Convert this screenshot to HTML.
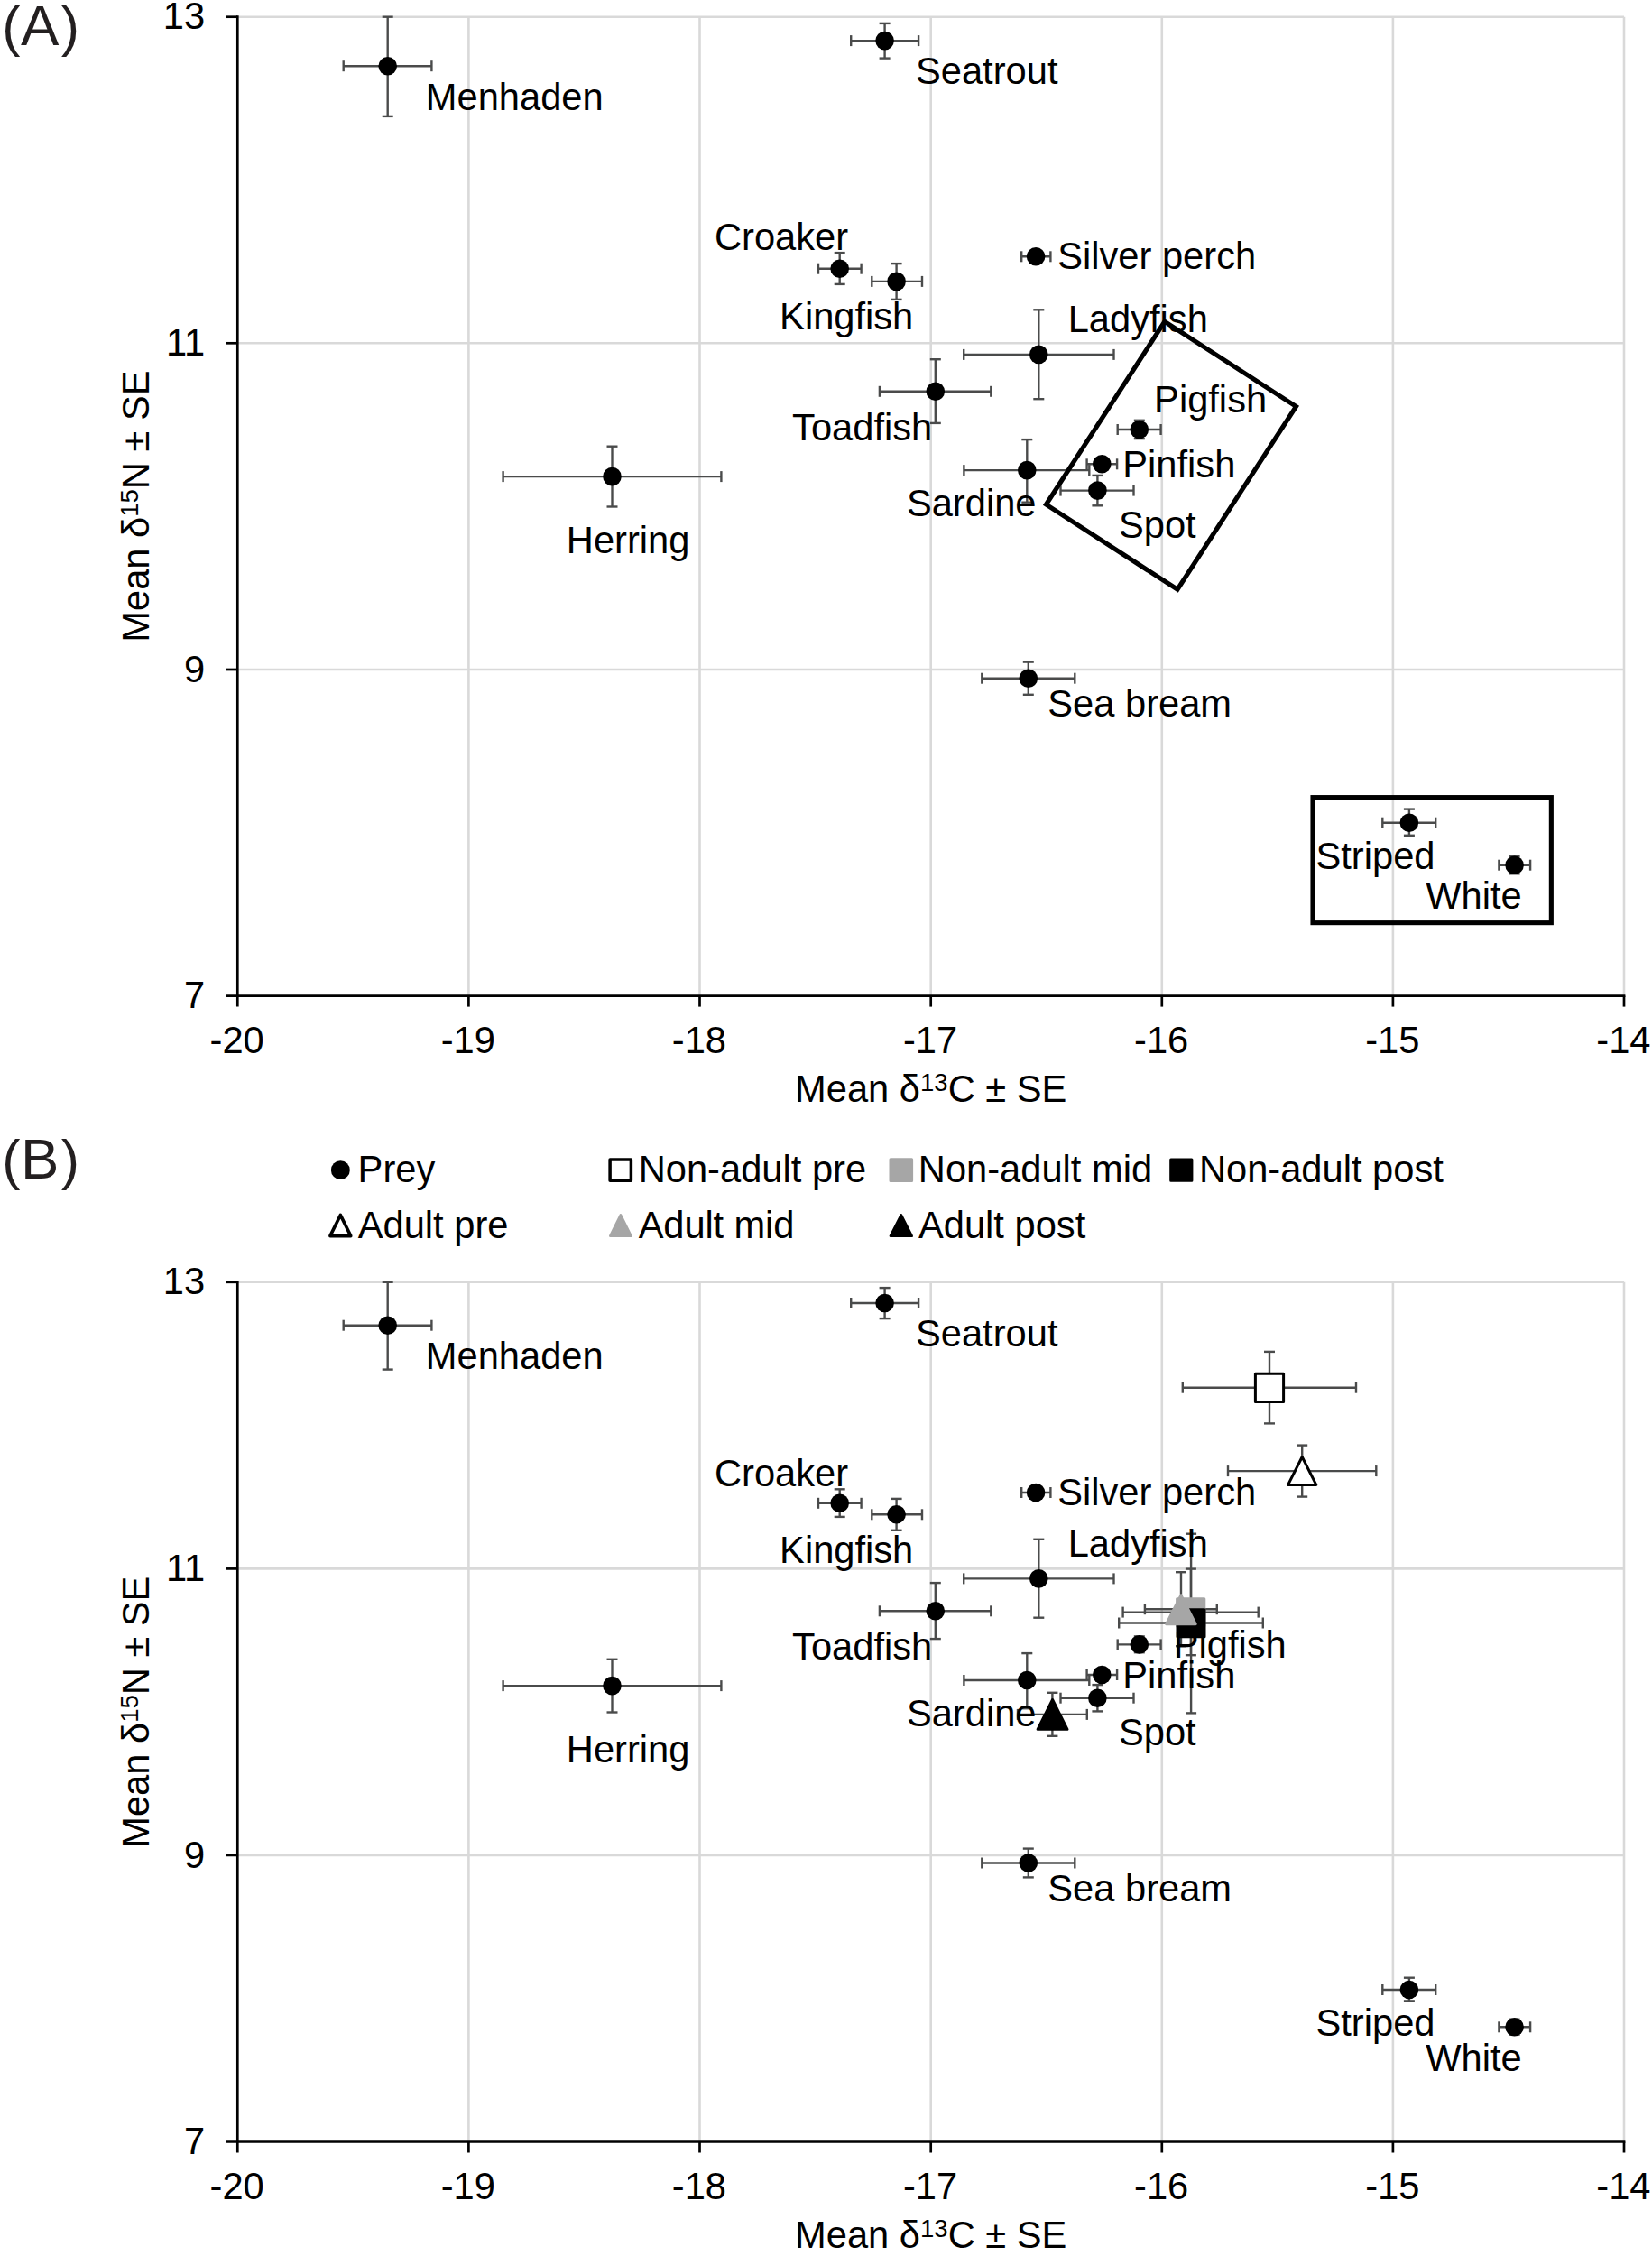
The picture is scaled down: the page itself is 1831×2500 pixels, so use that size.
<!DOCTYPE html>
<html lang="en"><head><meta charset="utf-8"><title>Stable isotope biplots</title>
<style>html,body{margin:0;padding:0;background:#fff}svg{display:block}</style></head>
<body>
<svg width="1831" height="2500" viewBox="0 0 1831 2500" style="font-family:&quot;Liberation Sans&quot;,sans-serif" font-size="41.67" fill="#000">
<rect width="1831" height="2500" fill="#fff"/>
<line x1="519.4" y1="18.7" x2="519.4" y2="1103.6" stroke="#d9d9d9" stroke-width="2.6"/>
<line x1="775.5" y1="18.7" x2="775.5" y2="1103.6" stroke="#d9d9d9" stroke-width="2.6"/>
<line x1="1031.7" y1="18.7" x2="1031.7" y2="1103.6" stroke="#d9d9d9" stroke-width="2.6"/>
<line x1="1287.8" y1="18.7" x2="1287.8" y2="1103.6" stroke="#d9d9d9" stroke-width="2.6"/>
<line x1="1543.9" y1="18.7" x2="1543.9" y2="1103.6" stroke="#d9d9d9" stroke-width="2.6"/>
<line x1="1800.0" y1="18.7" x2="1800.0" y2="1103.6" stroke="#d9d9d9" stroke-width="2.6"/>
<line x1="263.3" y1="18.7" x2="1800.0" y2="18.7" stroke="#d9d9d9" stroke-width="2.6"/>
<line x1="263.3" y1="380.3" x2="1800.0" y2="380.3" stroke="#d9d9d9" stroke-width="2.6"/>
<line x1="263.3" y1="742.0" x2="1800.0" y2="742.0" stroke="#d9d9d9" stroke-width="2.6"/>
<line x1="263.3" y1="17.3" x2="263.3" y2="1115.6" stroke="#000" stroke-width="2.7"/>
<line x1="250.8" y1="1103.6" x2="1801.4" y2="1103.6" stroke="#000" stroke-width="2.7"/>
<line x1="519.4" y1="1103.6" x2="519.4" y2="1115.6" stroke="#000" stroke-width="2.7"/>
<line x1="775.5" y1="1103.6" x2="775.5" y2="1115.6" stroke="#000" stroke-width="2.7"/>
<line x1="1031.7" y1="1103.6" x2="1031.7" y2="1115.6" stroke="#000" stroke-width="2.7"/>
<line x1="1287.8" y1="1103.6" x2="1287.8" y2="1115.6" stroke="#000" stroke-width="2.7"/>
<line x1="1543.9" y1="1103.6" x2="1543.9" y2="1115.6" stroke="#000" stroke-width="2.7"/>
<line x1="1800.0" y1="1103.6" x2="1800.0" y2="1115.6" stroke="#000" stroke-width="2.7"/>
<line x1="250.8" y1="18.7" x2="263.3" y2="18.7" stroke="#000" stroke-width="2.7"/>
<line x1="250.8" y1="380.3" x2="263.3" y2="380.3" stroke="#000" stroke-width="2.7"/>
<line x1="250.8" y1="742.0" x2="263.3" y2="742.0" stroke="#000" stroke-width="2.7"/>
<text x="227.2" y="32.3" text-anchor="end">13</text>
<text x="227.2" y="393.9" text-anchor="end">11</text>
<text x="227.2" y="755.6" text-anchor="end">9</text>
<text x="227.2" y="1117.2" text-anchor="end">7</text>
<text x="262.7" y="1166.6" text-anchor="middle">-20</text>
<text x="518.8" y="1166.6" text-anchor="middle">-19</text>
<text x="774.9" y="1166.6" text-anchor="middle">-18</text>
<text x="1031.1" y="1166.6" text-anchor="middle">-17</text>
<text x="1287.2" y="1166.6" text-anchor="middle">-16</text>
<text x="1543.3" y="1166.6" text-anchor="middle">-15</text>
<text x="1799.4" y="1166.6" text-anchor="middle">-14</text>
<text x="1031.7" y="1220.8" text-anchor="middle">Mean δ<tspan font-size="27.5" dy="-12">13</tspan><tspan dy="12">C ± SE</tspan></text>
<text transform="translate(165.1,561.1) rotate(-90)" text-anchor="middle">Mean δ<tspan font-size="27.5" dy="-12">15</tspan><tspan dy="12">N ± SE</tspan></text>
<line x1="380.7" y1="73.2" x2="478.4" y2="73.2" stroke="#4a4b4b" stroke-width="2.4"/>
<line x1="380.7" y1="67.2" x2="380.7" y2="79.2" stroke="#4a4b4b" stroke-width="2.4"/>
<line x1="478.4" y1="67.2" x2="478.4" y2="79.2" stroke="#4a4b4b" stroke-width="2.4"/>
<line x1="429.7" y1="18.7" x2="429.7" y2="128.9" stroke="#4a4b4b" stroke-width="2.4"/>
<line x1="423.7" y1="18.7" x2="435.7" y2="18.7" stroke="#4a4b4b" stroke-width="2.4"/>
<line x1="423.7" y1="128.9" x2="435.7" y2="128.9" stroke="#4a4b4b" stroke-width="2.4"/>
<line x1="943.2" y1="45.1" x2="1018.1" y2="45.1" stroke="#4a4b4b" stroke-width="2.4"/>
<line x1="943.2" y1="39.1" x2="943.2" y2="51.1" stroke="#4a4b4b" stroke-width="2.4"/>
<line x1="1018.1" y1="39.1" x2="1018.1" y2="51.1" stroke="#4a4b4b" stroke-width="2.4"/>
<line x1="980.6" y1="25.9" x2="980.6" y2="64.6" stroke="#4a4b4b" stroke-width="2.4"/>
<line x1="974.6" y1="25.9" x2="986.6" y2="25.9" stroke="#4a4b4b" stroke-width="2.4"/>
<line x1="974.6" y1="64.6" x2="986.6" y2="64.6" stroke="#4a4b4b" stroke-width="2.4"/>
<line x1="907.0" y1="297.7" x2="954.6" y2="297.7" stroke="#4a4b4b" stroke-width="2.4"/>
<line x1="907.0" y1="291.7" x2="907.0" y2="303.7" stroke="#4a4b4b" stroke-width="2.4"/>
<line x1="954.6" y1="291.7" x2="954.6" y2="303.7" stroke="#4a4b4b" stroke-width="2.4"/>
<line x1="930.7" y1="280.1" x2="930.7" y2="314.9" stroke="#4a4b4b" stroke-width="2.4"/>
<line x1="924.7" y1="280.1" x2="936.7" y2="280.1" stroke="#4a4b4b" stroke-width="2.4"/>
<line x1="924.7" y1="314.9" x2="936.7" y2="314.9" stroke="#4a4b4b" stroke-width="2.4"/>
<line x1="966.3" y1="311.9" x2="1022.0" y2="311.9" stroke="#4a4b4b" stroke-width="2.4"/>
<line x1="966.3" y1="305.9" x2="966.3" y2="317.9" stroke="#4a4b4b" stroke-width="2.4"/>
<line x1="1022.0" y1="305.9" x2="1022.0" y2="317.9" stroke="#4a4b4b" stroke-width="2.4"/>
<line x1="993.6" y1="292.1" x2="993.6" y2="331.9" stroke="#4a4b4b" stroke-width="2.4"/>
<line x1="987.6" y1="292.1" x2="999.6" y2="292.1" stroke="#4a4b4b" stroke-width="2.4"/>
<line x1="987.6" y1="331.9" x2="999.6" y2="331.9" stroke="#4a4b4b" stroke-width="2.4"/>
<line x1="1132.2" y1="284.3" x2="1164.4" y2="284.3" stroke="#4a4b4b" stroke-width="2.4"/>
<line x1="1132.2" y1="278.3" x2="1132.2" y2="290.3" stroke="#4a4b4b" stroke-width="2.4"/>
<line x1="1164.4" y1="278.3" x2="1164.4" y2="290.3" stroke="#4a4b4b" stroke-width="2.4"/>
<line x1="1148.1" y1="278.3" x2="1148.1" y2="290.3" stroke="#4a4b4b" stroke-width="2.4"/>
<line x1="1142.1" y1="278.3" x2="1154.1" y2="278.3" stroke="#4a4b4b" stroke-width="2.4"/>
<line x1="1142.1" y1="290.3" x2="1154.1" y2="290.3" stroke="#4a4b4b" stroke-width="2.4"/>
<line x1="1068.2" y1="392.9" x2="1234.5" y2="392.9" stroke="#4a4b4b" stroke-width="2.4"/>
<line x1="1068.2" y1="386.9" x2="1068.2" y2="398.9" stroke="#4a4b4b" stroke-width="2.4"/>
<line x1="1234.5" y1="386.9" x2="1234.5" y2="398.9" stroke="#4a4b4b" stroke-width="2.4"/>
<line x1="1151.3" y1="343.3" x2="1151.3" y2="442.2" stroke="#4a4b4b" stroke-width="2.4"/>
<line x1="1145.3" y1="343.3" x2="1157.3" y2="343.3" stroke="#4a4b4b" stroke-width="2.4"/>
<line x1="1145.3" y1="442.2" x2="1157.3" y2="442.2" stroke="#4a4b4b" stroke-width="2.4"/>
<line x1="974.9" y1="433.8" x2="1098.3" y2="433.8" stroke="#4a4b4b" stroke-width="2.4"/>
<line x1="974.9" y1="427.8" x2="974.9" y2="439.8" stroke="#4a4b4b" stroke-width="2.4"/>
<line x1="1098.3" y1="427.8" x2="1098.3" y2="439.8" stroke="#4a4b4b" stroke-width="2.4"/>
<line x1="1036.8" y1="398.2" x2="1036.8" y2="468.9" stroke="#4a4b4b" stroke-width="2.4"/>
<line x1="1030.8" y1="398.2" x2="1042.8" y2="398.2" stroke="#4a4b4b" stroke-width="2.4"/>
<line x1="1030.8" y1="468.9" x2="1042.8" y2="468.9" stroke="#4a4b4b" stroke-width="2.4"/>
<line x1="557.6" y1="528.1" x2="799.4" y2="528.1" stroke="#4a4b4b" stroke-width="2.4"/>
<line x1="557.6" y1="522.1" x2="557.6" y2="534.1" stroke="#4a4b4b" stroke-width="2.4"/>
<line x1="799.4" y1="522.1" x2="799.4" y2="534.1" stroke="#4a4b4b" stroke-width="2.4"/>
<line x1="678.5" y1="494.7" x2="678.5" y2="561.5" stroke="#4a4b4b" stroke-width="2.4"/>
<line x1="672.5" y1="494.7" x2="684.5" y2="494.7" stroke="#4a4b4b" stroke-width="2.4"/>
<line x1="672.5" y1="561.5" x2="684.5" y2="561.5" stroke="#4a4b4b" stroke-width="2.4"/>
<line x1="1068.4" y1="521.1" x2="1207.3" y2="521.1" stroke="#4a4b4b" stroke-width="2.4"/>
<line x1="1068.4" y1="515.1" x2="1068.4" y2="527.1" stroke="#4a4b4b" stroke-width="2.4"/>
<line x1="1207.3" y1="515.1" x2="1207.3" y2="527.1" stroke="#4a4b4b" stroke-width="2.4"/>
<line x1="1138.3" y1="487.1" x2="1138.3" y2="556.7" stroke="#4a4b4b" stroke-width="2.4"/>
<line x1="1132.3" y1="487.1" x2="1144.3" y2="487.1" stroke="#4a4b4b" stroke-width="2.4"/>
<line x1="1132.3" y1="556.7" x2="1144.3" y2="556.7" stroke="#4a4b4b" stroke-width="2.4"/>
<line x1="1238.7" y1="476.0" x2="1286.6" y2="476.0" stroke="#4a4b4b" stroke-width="2.4"/>
<line x1="1238.7" y1="470.0" x2="1238.7" y2="482.0" stroke="#4a4b4b" stroke-width="2.4"/>
<line x1="1286.6" y1="470.0" x2="1286.6" y2="482.0" stroke="#4a4b4b" stroke-width="2.4"/>
<line x1="1262.8" y1="465.8" x2="1262.8" y2="486.1" stroke="#4a4b4b" stroke-width="2.4"/>
<line x1="1256.8" y1="465.8" x2="1268.8" y2="465.8" stroke="#4a4b4b" stroke-width="2.4"/>
<line x1="1256.8" y1="486.1" x2="1268.8" y2="486.1" stroke="#4a4b4b" stroke-width="2.4"/>
<line x1="1204.6" y1="514.3" x2="1238.1" y2="514.3" stroke="#4a4b4b" stroke-width="2.4"/>
<line x1="1204.6" y1="508.3" x2="1204.6" y2="520.3" stroke="#4a4b4b" stroke-width="2.4"/>
<line x1="1238.1" y1="508.3" x2="1238.1" y2="520.3" stroke="#4a4b4b" stroke-width="2.4"/>
<line x1="1221.3" y1="508.3" x2="1221.3" y2="520.3" stroke="#4a4b4b" stroke-width="2.4"/>
<line x1="1215.3" y1="508.3" x2="1227.3" y2="508.3" stroke="#4a4b4b" stroke-width="2.4"/>
<line x1="1215.3" y1="520.3" x2="1227.3" y2="520.3" stroke="#4a4b4b" stroke-width="2.4"/>
<line x1="1175.5" y1="543.6" x2="1256.5" y2="543.6" stroke="#4a4b4b" stroke-width="2.4"/>
<line x1="1175.5" y1="537.6" x2="1175.5" y2="549.6" stroke="#4a4b4b" stroke-width="2.4"/>
<line x1="1256.5" y1="537.6" x2="1256.5" y2="549.6" stroke="#4a4b4b" stroke-width="2.4"/>
<line x1="1216.4" y1="526.9" x2="1216.4" y2="560.3" stroke="#4a4b4b" stroke-width="2.4"/>
<line x1="1210.4" y1="526.9" x2="1222.4" y2="526.9" stroke="#4a4b4b" stroke-width="2.4"/>
<line x1="1210.4" y1="560.3" x2="1222.4" y2="560.3" stroke="#4a4b4b" stroke-width="2.4"/>
<line x1="1088.3" y1="751.7" x2="1191.3" y2="751.7" stroke="#4a4b4b" stroke-width="2.4"/>
<line x1="1088.3" y1="745.7" x2="1088.3" y2="757.7" stroke="#4a4b4b" stroke-width="2.4"/>
<line x1="1191.3" y1="745.7" x2="1191.3" y2="757.7" stroke="#4a4b4b" stroke-width="2.4"/>
<line x1="1139.8" y1="733.6" x2="1139.8" y2="769.8" stroke="#4a4b4b" stroke-width="2.4"/>
<line x1="1133.8" y1="733.6" x2="1145.8" y2="733.6" stroke="#4a4b4b" stroke-width="2.4"/>
<line x1="1133.8" y1="769.8" x2="1145.8" y2="769.8" stroke="#4a4b4b" stroke-width="2.4"/>
<line x1="1532.3" y1="911.7" x2="1591.2" y2="911.7" stroke="#4a4b4b" stroke-width="2.4"/>
<line x1="1532.3" y1="905.7" x2="1532.3" y2="917.7" stroke="#4a4b4b" stroke-width="2.4"/>
<line x1="1591.2" y1="905.7" x2="1591.2" y2="917.7" stroke="#4a4b4b" stroke-width="2.4"/>
<line x1="1561.9" y1="896.6" x2="1561.9" y2="925.8" stroke="#4a4b4b" stroke-width="2.4"/>
<line x1="1555.9" y1="896.6" x2="1567.9" y2="896.6" stroke="#4a4b4b" stroke-width="2.4"/>
<line x1="1555.9" y1="925.8" x2="1567.9" y2="925.8" stroke="#4a4b4b" stroke-width="2.4"/>
<line x1="1661.4" y1="958.7" x2="1696.1" y2="958.7" stroke="#4a4b4b" stroke-width="2.4"/>
<line x1="1661.4" y1="952.7" x2="1661.4" y2="964.7" stroke="#4a4b4b" stroke-width="2.4"/>
<line x1="1696.1" y1="952.7" x2="1696.1" y2="964.7" stroke="#4a4b4b" stroke-width="2.4"/>
<line x1="1678.6" y1="949.1" x2="1678.6" y2="968.3" stroke="#4a4b4b" stroke-width="2.4"/>
<line x1="1672.6" y1="949.1" x2="1684.6" y2="949.1" stroke="#4a4b4b" stroke-width="2.4"/>
<line x1="1672.6" y1="968.3" x2="1684.6" y2="968.3" stroke="#4a4b4b" stroke-width="2.4"/>
<circle cx="429.7" cy="73.2" r="10.3"/>
<circle cx="980.6" cy="45.1" r="10.3"/>
<circle cx="930.7" cy="297.7" r="10.3"/>
<circle cx="993.6" cy="311.9" r="10.3"/>
<circle cx="1148.1" cy="284.3" r="10.3"/>
<circle cx="1151.3" cy="392.9" r="10.3"/>
<circle cx="1036.8" cy="433.8" r="10.3"/>
<circle cx="678.5" cy="528.1" r="10.3"/>
<circle cx="1138.3" cy="521.1" r="10.3"/>
<circle cx="1262.8" cy="476.0" r="10.3"/>
<circle cx="1221.3" cy="514.3" r="10.3"/>
<circle cx="1216.4" cy="543.6" r="10.3"/>
<circle cx="1139.8" cy="751.7" r="10.3"/>
<circle cx="1561.9" cy="911.7" r="10.3"/>
<circle cx="1678.6" cy="958.7" r="10.3"/>
<text x="471.8" y="121.7">Menhaden</text>
<text x="1015.0" y="92.7">Seatrout</text>
<text x="792.0" y="277.3">Croaker</text>
<text x="864.1" y="365.1">Kingfish</text>
<text x="1172.2" y="298.2">Silver perch</text>
<text x="1183.7" y="368.4">Ladyfish</text>
<text x="878.1" y="487.6">Toadfish</text>
<text x="627.8" y="613.0">Herring</text>
<text x="1004.9" y="572.0">Sardine</text>
<text x="1279.1" y="457.0">Pigfish</text>
<text x="1244.3" y="528.9">Pinfish</text>
<text x="1240.0" y="596.2">Spot</text>
<text x="1161.3" y="794.3">Sea bream</text>
<text x="1458.5" y="962.6">Striped</text>
<text x="1580.3" y="1007.0">White</text>
<polygon points="1290.9,356.3 1436.5,450.4 1305.05,653.2 1159.45,559.1" fill="none" stroke="#000" stroke-width="5.1" stroke-linejoin="miter"/>
<rect x="1455" y="883.6" width="264.35" height="139.05" fill="none" stroke="#000" stroke-width="5.1"/>
<text fill="#231f20"><tspan x="2.3" y="49.7" font-size="60.8">(</tspan><tspan x="22.9" y="49.7" font-size="63.5">A</tspan><tspan x="67.8" y="49.7" font-size="60.8">)</tspan></text>
<line x1="519.4" y1="1420.8" x2="519.4" y2="2373.5" stroke="#d9d9d9" stroke-width="2.6"/>
<line x1="775.5" y1="1420.8" x2="775.5" y2="2373.5" stroke="#d9d9d9" stroke-width="2.6"/>
<line x1="1031.7" y1="1420.8" x2="1031.7" y2="2373.5" stroke="#d9d9d9" stroke-width="2.6"/>
<line x1="1287.8" y1="1420.8" x2="1287.8" y2="2373.5" stroke="#d9d9d9" stroke-width="2.6"/>
<line x1="1543.9" y1="1420.8" x2="1543.9" y2="2373.5" stroke="#d9d9d9" stroke-width="2.6"/>
<line x1="1800.0" y1="1420.8" x2="1800.0" y2="2373.5" stroke="#d9d9d9" stroke-width="2.6"/>
<line x1="263.3" y1="1420.8" x2="1800.0" y2="1420.8" stroke="#d9d9d9" stroke-width="2.6"/>
<line x1="263.3" y1="1738.4" x2="1800.0" y2="1738.4" stroke="#d9d9d9" stroke-width="2.6"/>
<line x1="263.3" y1="2055.9" x2="1800.0" y2="2055.9" stroke="#d9d9d9" stroke-width="2.6"/>
<line x1="263.3" y1="1419.5" x2="263.3" y2="2385.5" stroke="#000" stroke-width="2.7"/>
<line x1="250.8" y1="2373.5" x2="1801.4" y2="2373.5" stroke="#000" stroke-width="2.7"/>
<line x1="519.4" y1="2373.5" x2="519.4" y2="2385.5" stroke="#000" stroke-width="2.7"/>
<line x1="775.5" y1="2373.5" x2="775.5" y2="2385.5" stroke="#000" stroke-width="2.7"/>
<line x1="1031.7" y1="2373.5" x2="1031.7" y2="2385.5" stroke="#000" stroke-width="2.7"/>
<line x1="1287.8" y1="2373.5" x2="1287.8" y2="2385.5" stroke="#000" stroke-width="2.7"/>
<line x1="1543.9" y1="2373.5" x2="1543.9" y2="2385.5" stroke="#000" stroke-width="2.7"/>
<line x1="1800.0" y1="2373.5" x2="1800.0" y2="2385.5" stroke="#000" stroke-width="2.7"/>
<line x1="250.8" y1="1420.8" x2="263.3" y2="1420.8" stroke="#000" stroke-width="2.7"/>
<line x1="250.8" y1="1738.4" x2="263.3" y2="1738.4" stroke="#000" stroke-width="2.7"/>
<line x1="250.8" y1="2055.9" x2="263.3" y2="2055.9" stroke="#000" stroke-width="2.7"/>
<text x="227.2" y="1434.4" text-anchor="end">13</text>
<text x="227.2" y="1752.0" text-anchor="end">11</text>
<text x="227.2" y="2069.5" text-anchor="end">9</text>
<text x="227.2" y="2387.1" text-anchor="end">7</text>
<text x="262.7" y="2436.5" text-anchor="middle">-20</text>
<text x="518.8" y="2436.5" text-anchor="middle">-19</text>
<text x="774.9" y="2436.5" text-anchor="middle">-18</text>
<text x="1031.1" y="2436.5" text-anchor="middle">-17</text>
<text x="1287.2" y="2436.5" text-anchor="middle">-16</text>
<text x="1543.3" y="2436.5" text-anchor="middle">-15</text>
<text x="1799.4" y="2436.5" text-anchor="middle">-14</text>
<text x="1031.7" y="2490.7" text-anchor="middle">Mean δ<tspan font-size="27.5" dy="-12">13</tspan><tspan dy="12">C ± SE</tspan></text>
<text transform="translate(165.1,1897.2) rotate(-90)" text-anchor="middle">Mean δ<tspan font-size="27.5" dy="-12">15</tspan><tspan dy="12">N ± SE</tspan></text>
<text fill="#231f20"><tspan x="2.3" y="1305.5" font-size="60.8">(</tspan><tspan x="22.9" y="1305.5" font-size="63.5">B</tspan><tspan x="67.8" y="1305.5" font-size="60.8">)</tspan></text>
<line x1="380.7" y1="1468.7" x2="478.4" y2="1468.7" stroke="#4a4b4b" stroke-width="2.4"/>
<line x1="380.7" y1="1462.7" x2="380.7" y2="1474.7" stroke="#4a4b4b" stroke-width="2.4"/>
<line x1="478.4" y1="1462.7" x2="478.4" y2="1474.7" stroke="#4a4b4b" stroke-width="2.4"/>
<line x1="429.7" y1="1420.8" x2="429.7" y2="1517.6" stroke="#4a4b4b" stroke-width="2.4"/>
<line x1="423.7" y1="1420.8" x2="435.7" y2="1420.8" stroke="#4a4b4b" stroke-width="2.4"/>
<line x1="423.7" y1="1517.6" x2="435.7" y2="1517.6" stroke="#4a4b4b" stroke-width="2.4"/>
<line x1="943.2" y1="1444.0" x2="1018.1" y2="1444.0" stroke="#4a4b4b" stroke-width="2.4"/>
<line x1="943.2" y1="1438.0" x2="943.2" y2="1450.0" stroke="#4a4b4b" stroke-width="2.4"/>
<line x1="1018.1" y1="1438.0" x2="1018.1" y2="1450.0" stroke="#4a4b4b" stroke-width="2.4"/>
<line x1="980.6" y1="1427.1" x2="980.6" y2="1461.1" stroke="#4a4b4b" stroke-width="2.4"/>
<line x1="974.6" y1="1427.1" x2="986.6" y2="1427.1" stroke="#4a4b4b" stroke-width="2.4"/>
<line x1="974.6" y1="1461.1" x2="986.6" y2="1461.1" stroke="#4a4b4b" stroke-width="2.4"/>
<line x1="907.0" y1="1665.8" x2="954.6" y2="1665.8" stroke="#4a4b4b" stroke-width="2.4"/>
<line x1="907.0" y1="1659.8" x2="907.0" y2="1671.8" stroke="#4a4b4b" stroke-width="2.4"/>
<line x1="954.6" y1="1659.8" x2="954.6" y2="1671.8" stroke="#4a4b4b" stroke-width="2.4"/>
<line x1="930.7" y1="1650.3" x2="930.7" y2="1680.9" stroke="#4a4b4b" stroke-width="2.4"/>
<line x1="924.7" y1="1650.3" x2="936.7" y2="1650.3" stroke="#4a4b4b" stroke-width="2.4"/>
<line x1="924.7" y1="1680.9" x2="936.7" y2="1680.9" stroke="#4a4b4b" stroke-width="2.4"/>
<line x1="966.3" y1="1678.3" x2="1022.0" y2="1678.3" stroke="#4a4b4b" stroke-width="2.4"/>
<line x1="966.3" y1="1672.3" x2="966.3" y2="1684.3" stroke="#4a4b4b" stroke-width="2.4"/>
<line x1="1022.0" y1="1672.3" x2="1022.0" y2="1684.3" stroke="#4a4b4b" stroke-width="2.4"/>
<line x1="993.6" y1="1660.9" x2="993.6" y2="1695.8" stroke="#4a4b4b" stroke-width="2.4"/>
<line x1="987.6" y1="1660.9" x2="999.6" y2="1660.9" stroke="#4a4b4b" stroke-width="2.4"/>
<line x1="987.6" y1="1695.8" x2="999.6" y2="1695.8" stroke="#4a4b4b" stroke-width="2.4"/>
<line x1="1132.2" y1="1654.0" x2="1164.4" y2="1654.0" stroke="#4a4b4b" stroke-width="2.4"/>
<line x1="1132.2" y1="1648.0" x2="1132.2" y2="1660.0" stroke="#4a4b4b" stroke-width="2.4"/>
<line x1="1164.4" y1="1648.0" x2="1164.4" y2="1660.0" stroke="#4a4b4b" stroke-width="2.4"/>
<line x1="1148.1" y1="1648.8" x2="1148.1" y2="1659.3" stroke="#4a4b4b" stroke-width="2.4"/>
<line x1="1142.1" y1="1648.8" x2="1154.1" y2="1648.8" stroke="#4a4b4b" stroke-width="2.4"/>
<line x1="1142.1" y1="1659.3" x2="1154.1" y2="1659.3" stroke="#4a4b4b" stroke-width="2.4"/>
<line x1="1068.2" y1="1749.4" x2="1234.5" y2="1749.4" stroke="#4a4b4b" stroke-width="2.4"/>
<line x1="1068.2" y1="1743.4" x2="1068.2" y2="1755.4" stroke="#4a4b4b" stroke-width="2.4"/>
<line x1="1234.5" y1="1743.4" x2="1234.5" y2="1755.4" stroke="#4a4b4b" stroke-width="2.4"/>
<line x1="1151.3" y1="1705.8" x2="1151.3" y2="1792.7" stroke="#4a4b4b" stroke-width="2.4"/>
<line x1="1145.3" y1="1705.8" x2="1157.3" y2="1705.8" stroke="#4a4b4b" stroke-width="2.4"/>
<line x1="1145.3" y1="1792.7" x2="1157.3" y2="1792.7" stroke="#4a4b4b" stroke-width="2.4"/>
<line x1="974.9" y1="1785.3" x2="1098.3" y2="1785.3" stroke="#4a4b4b" stroke-width="2.4"/>
<line x1="974.9" y1="1779.3" x2="974.9" y2="1791.3" stroke="#4a4b4b" stroke-width="2.4"/>
<line x1="1098.3" y1="1779.3" x2="1098.3" y2="1791.3" stroke="#4a4b4b" stroke-width="2.4"/>
<line x1="1036.8" y1="1754.1" x2="1036.8" y2="1816.1" stroke="#4a4b4b" stroke-width="2.4"/>
<line x1="1030.8" y1="1754.1" x2="1042.8" y2="1754.1" stroke="#4a4b4b" stroke-width="2.4"/>
<line x1="1030.8" y1="1816.1" x2="1042.8" y2="1816.1" stroke="#4a4b4b" stroke-width="2.4"/>
<line x1="557.6" y1="1868.1" x2="799.4" y2="1868.1" stroke="#4a4b4b" stroke-width="2.4"/>
<line x1="557.6" y1="1862.1" x2="557.6" y2="1874.1" stroke="#4a4b4b" stroke-width="2.4"/>
<line x1="799.4" y1="1862.1" x2="799.4" y2="1874.1" stroke="#4a4b4b" stroke-width="2.4"/>
<line x1="678.5" y1="1838.8" x2="678.5" y2="1897.5" stroke="#4a4b4b" stroke-width="2.4"/>
<line x1="672.5" y1="1838.8" x2="684.5" y2="1838.8" stroke="#4a4b4b" stroke-width="2.4"/>
<line x1="672.5" y1="1897.5" x2="684.5" y2="1897.5" stroke="#4a4b4b" stroke-width="2.4"/>
<line x1="1068.4" y1="1862.0" x2="1207.3" y2="1862.0" stroke="#4a4b4b" stroke-width="2.4"/>
<line x1="1068.4" y1="1856.0" x2="1068.4" y2="1868.0" stroke="#4a4b4b" stroke-width="2.4"/>
<line x1="1207.3" y1="1856.0" x2="1207.3" y2="1868.0" stroke="#4a4b4b" stroke-width="2.4"/>
<line x1="1138.3" y1="1832.1" x2="1138.3" y2="1893.2" stroke="#4a4b4b" stroke-width="2.4"/>
<line x1="1132.3" y1="1832.1" x2="1144.3" y2="1832.1" stroke="#4a4b4b" stroke-width="2.4"/>
<line x1="1132.3" y1="1893.2" x2="1144.3" y2="1893.2" stroke="#4a4b4b" stroke-width="2.4"/>
<line x1="1238.7" y1="1822.4" x2="1286.6" y2="1822.4" stroke="#4a4b4b" stroke-width="2.4"/>
<line x1="1238.7" y1="1816.4" x2="1238.7" y2="1828.4" stroke="#4a4b4b" stroke-width="2.4"/>
<line x1="1286.6" y1="1816.4" x2="1286.6" y2="1828.4" stroke="#4a4b4b" stroke-width="2.4"/>
<line x1="1262.8" y1="1813.4" x2="1262.8" y2="1831.2" stroke="#4a4b4b" stroke-width="2.4"/>
<line x1="1256.8" y1="1813.4" x2="1268.8" y2="1813.4" stroke="#4a4b4b" stroke-width="2.4"/>
<line x1="1256.8" y1="1831.2" x2="1268.8" y2="1831.2" stroke="#4a4b4b" stroke-width="2.4"/>
<line x1="1204.6" y1="1856.0" x2="1238.1" y2="1856.0" stroke="#4a4b4b" stroke-width="2.4"/>
<line x1="1204.6" y1="1850.0" x2="1204.6" y2="1862.0" stroke="#4a4b4b" stroke-width="2.4"/>
<line x1="1238.1" y1="1850.0" x2="1238.1" y2="1862.0" stroke="#4a4b4b" stroke-width="2.4"/>
<line x1="1221.3" y1="1850.7" x2="1221.3" y2="1861.3" stroke="#4a4b4b" stroke-width="2.4"/>
<line x1="1215.3" y1="1850.7" x2="1227.3" y2="1850.7" stroke="#4a4b4b" stroke-width="2.4"/>
<line x1="1215.3" y1="1861.3" x2="1227.3" y2="1861.3" stroke="#4a4b4b" stroke-width="2.4"/>
<line x1="1175.5" y1="1881.7" x2="1256.5" y2="1881.7" stroke="#4a4b4b" stroke-width="2.4"/>
<line x1="1175.5" y1="1875.7" x2="1175.5" y2="1887.7" stroke="#4a4b4b" stroke-width="2.4"/>
<line x1="1256.5" y1="1875.7" x2="1256.5" y2="1887.7" stroke="#4a4b4b" stroke-width="2.4"/>
<line x1="1216.4" y1="1867.1" x2="1216.4" y2="1896.4" stroke="#4a4b4b" stroke-width="2.4"/>
<line x1="1210.4" y1="1867.1" x2="1222.4" y2="1867.1" stroke="#4a4b4b" stroke-width="2.4"/>
<line x1="1210.4" y1="1896.4" x2="1222.4" y2="1896.4" stroke="#4a4b4b" stroke-width="2.4"/>
<line x1="1088.3" y1="2064.5" x2="1191.3" y2="2064.5" stroke="#4a4b4b" stroke-width="2.4"/>
<line x1="1088.3" y1="2058.5" x2="1088.3" y2="2070.5" stroke="#4a4b4b" stroke-width="2.4"/>
<line x1="1191.3" y1="2058.5" x2="1191.3" y2="2070.5" stroke="#4a4b4b" stroke-width="2.4"/>
<line x1="1139.8" y1="2048.6" x2="1139.8" y2="2080.4" stroke="#4a4b4b" stroke-width="2.4"/>
<line x1="1133.8" y1="2048.6" x2="1145.8" y2="2048.6" stroke="#4a4b4b" stroke-width="2.4"/>
<line x1="1133.8" y1="2080.4" x2="1145.8" y2="2080.4" stroke="#4a4b4b" stroke-width="2.4"/>
<line x1="1532.3" y1="2205.0" x2="1591.2" y2="2205.0" stroke="#4a4b4b" stroke-width="2.4"/>
<line x1="1532.3" y1="2199.0" x2="1532.3" y2="2211.0" stroke="#4a4b4b" stroke-width="2.4"/>
<line x1="1591.2" y1="2199.0" x2="1591.2" y2="2211.0" stroke="#4a4b4b" stroke-width="2.4"/>
<line x1="1561.9" y1="2191.7" x2="1561.9" y2="2217.4" stroke="#4a4b4b" stroke-width="2.4"/>
<line x1="1555.9" y1="2191.7" x2="1567.9" y2="2191.7" stroke="#4a4b4b" stroke-width="2.4"/>
<line x1="1555.9" y1="2217.4" x2="1567.9" y2="2217.4" stroke="#4a4b4b" stroke-width="2.4"/>
<line x1="1661.4" y1="2246.3" x2="1696.1" y2="2246.3" stroke="#4a4b4b" stroke-width="2.4"/>
<line x1="1661.4" y1="2240.3" x2="1661.4" y2="2252.3" stroke="#4a4b4b" stroke-width="2.4"/>
<line x1="1696.1" y1="2240.3" x2="1696.1" y2="2252.3" stroke="#4a4b4b" stroke-width="2.4"/>
<line x1="1678.6" y1="2237.8" x2="1678.6" y2="2254.7" stroke="#4a4b4b" stroke-width="2.4"/>
<line x1="1672.6" y1="2237.8" x2="1684.6" y2="2237.8" stroke="#4a4b4b" stroke-width="2.4"/>
<line x1="1672.6" y1="2254.7" x2="1684.6" y2="2254.7" stroke="#4a4b4b" stroke-width="2.4"/>
<line x1="1310.8" y1="1537.7" x2="1503.0" y2="1537.7" stroke="#4a4b4b" stroke-width="2.4"/>
<line x1="1310.8" y1="1531.7" x2="1310.8" y2="1543.7" stroke="#4a4b4b" stroke-width="2.4"/>
<line x1="1503.0" y1="1531.7" x2="1503.0" y2="1543.7" stroke="#4a4b4b" stroke-width="2.4"/>
<line x1="1407.0" y1="1497.9" x2="1407.0" y2="1577.4" stroke="#4a4b4b" stroke-width="2.4"/>
<line x1="1401.0" y1="1497.9" x2="1413.0" y2="1497.9" stroke="#4a4b4b" stroke-width="2.4"/>
<line x1="1401.0" y1="1577.4" x2="1413.0" y2="1577.4" stroke="#4a4b4b" stroke-width="2.4"/>
<line x1="1244.6" y1="1786.6" x2="1394.7" y2="1786.6" stroke="#4a4b4b" stroke-width="2.4"/>
<line x1="1244.6" y1="1780.6" x2="1244.6" y2="1792.6" stroke="#4a4b4b" stroke-width="2.4"/>
<line x1="1394.7" y1="1780.6" x2="1394.7" y2="1792.6" stroke="#4a4b4b" stroke-width="2.4"/>
<line x1="1319.9" y1="1738.6" x2="1319.9" y2="1834.2" stroke="#4a4b4b" stroke-width="2.4"/>
<line x1="1313.9" y1="1738.6" x2="1325.9" y2="1738.6" stroke="#4a4b4b" stroke-width="2.4"/>
<line x1="1313.9" y1="1834.2" x2="1325.9" y2="1834.2" stroke="#4a4b4b" stroke-width="2.4"/>
<line x1="1240.2" y1="1798.5" x2="1399.8" y2="1798.5" stroke="#4a4b4b" stroke-width="2.4"/>
<line x1="1240.2" y1="1792.5" x2="1240.2" y2="1804.5" stroke="#4a4b4b" stroke-width="2.4"/>
<line x1="1399.8" y1="1792.5" x2="1399.8" y2="1804.5" stroke="#4a4b4b" stroke-width="2.4"/>
<line x1="1320.1" y1="1699.7" x2="1320.1" y2="1898.4" stroke="#4a4b4b" stroke-width="2.4"/>
<line x1="1314.1" y1="1699.7" x2="1326.1" y2="1699.7" stroke="#4a4b4b" stroke-width="2.4"/>
<line x1="1314.1" y1="1898.4" x2="1326.1" y2="1898.4" stroke="#4a4b4b" stroke-width="2.4"/>
<line x1="1361.0" y1="1630.1" x2="1525.3" y2="1630.1" stroke="#4a4b4b" stroke-width="2.4"/>
<line x1="1361.0" y1="1624.1" x2="1361.0" y2="1636.1" stroke="#4a4b4b" stroke-width="2.4"/>
<line x1="1525.3" y1="1624.1" x2="1525.3" y2="1636.1" stroke="#4a4b4b" stroke-width="2.4"/>
<line x1="1443.2" y1="1601.6" x2="1443.2" y2="1658.6" stroke="#4a4b4b" stroke-width="2.4"/>
<line x1="1437.2" y1="1601.6" x2="1449.2" y2="1601.6" stroke="#4a4b4b" stroke-width="2.4"/>
<line x1="1437.2" y1="1658.6" x2="1449.2" y2="1658.6" stroke="#4a4b4b" stroke-width="2.4"/>
<line x1="1268.9" y1="1783.2" x2="1348.8" y2="1783.2" stroke="#4a4b4b" stroke-width="2.4"/>
<line x1="1268.9" y1="1777.2" x2="1268.9" y2="1789.2" stroke="#4a4b4b" stroke-width="2.4"/>
<line x1="1348.8" y1="1777.2" x2="1348.8" y2="1789.2" stroke="#4a4b4b" stroke-width="2.4"/>
<line x1="1309.0" y1="1742.2" x2="1309.0" y2="1824.2" stroke="#4a4b4b" stroke-width="2.4"/>
<line x1="1303.0" y1="1742.2" x2="1315.0" y2="1742.2" stroke="#4a4b4b" stroke-width="2.4"/>
<line x1="1303.0" y1="1824.2" x2="1315.0" y2="1824.2" stroke="#4a4b4b" stroke-width="2.4"/>
<line x1="1128.0" y1="1899.9" x2="1204.8" y2="1899.9" stroke="#4a4b4b" stroke-width="2.4"/>
<line x1="1128.0" y1="1893.9" x2="1128.0" y2="1905.9" stroke="#4a4b4b" stroke-width="2.4"/>
<line x1="1204.8" y1="1893.9" x2="1204.8" y2="1905.9" stroke="#4a4b4b" stroke-width="2.4"/>
<line x1="1166.4" y1="1875.8" x2="1166.4" y2="1923.8" stroke="#4a4b4b" stroke-width="2.4"/>
<line x1="1160.4" y1="1875.8" x2="1172.4" y2="1875.8" stroke="#4a4b4b" stroke-width="2.4"/>
<line x1="1160.4" y1="1923.8" x2="1172.4" y2="1923.8" stroke="#4a4b4b" stroke-width="2.4"/>
<circle cx="429.7" cy="1468.7" r="10.3"/>
<circle cx="980.6" cy="1444.0" r="10.3"/>
<circle cx="930.7" cy="1665.8" r="10.3"/>
<circle cx="993.6" cy="1678.3" r="10.3"/>
<circle cx="1148.1" cy="1654.0" r="10.3"/>
<circle cx="1151.3" cy="1749.4" r="10.3"/>
<circle cx="1036.8" cy="1785.3" r="10.3"/>
<circle cx="678.5" cy="1868.1" r="10.3"/>
<circle cx="1138.3" cy="1862.0" r="10.3"/>
<circle cx="1262.8" cy="1822.4" r="10.3"/>
<circle cx="1221.3" cy="1856.0" r="10.3"/>
<circle cx="1216.4" cy="1881.7" r="10.3"/>
<circle cx="1139.8" cy="2064.5" r="10.3"/>
<circle cx="1561.9" cy="2205.0" r="10.3"/>
<circle cx="1678.6" cy="2246.3" r="10.3"/>
<rect x="1391.40" y="1522.25" width="31.20" height="31.20" fill="#fff" stroke="#000" stroke-width="3.0" stroke-linejoin="round"/>
<rect x="1304.60" y="1771.70" width="30.20" height="30.20" fill="#a6a6a6" stroke="#a6a6a6" stroke-width="3.0" stroke-linejoin="round"/>
<rect x="1305.00" y="1783.70" width="30.00" height="30.00" fill="#000" stroke="#000" stroke-width="3.0" stroke-linejoin="round"/>
<polygon points="1443.20,1614.50 1458.80,1645.40 1427.60,1645.40" fill="#fff" stroke="#000" stroke-width="3.0" stroke-linejoin="round"/>
<polygon points="1308.95,1767.70 1325.20,1799.70 1292.70,1799.70" fill="#a6a6a6" stroke="#a6a6a6" stroke-width="3.0" stroke-linejoin="round"/>
<polygon points="1166.55,1883.50 1183.00,1916.30 1150.10,1916.30" fill="#000" stroke="#000" stroke-width="3.0" stroke-linejoin="round"/>
<text x="471.8" y="1517.2">Menhaden</text>
<text x="1015.0" y="1492.3">Seatrout</text>
<text x="792.0" y="1646.6">Croaker</text>
<text x="864.1" y="1731.5">Kingfish</text>
<text x="1172.2" y="1667.9">Silver perch</text>
<text x="1183.7" y="1724.9">Ladyfish</text>
<text x="878.1" y="1839.1">Toadfish</text>
<text x="627.8" y="1953.0">Herring</text>
<text x="1004.9" y="1912.9">Sardine</text>
<text x="1300.7" y="1837.0">Pigfish</text>
<text x="1244.3" y="1870.6">Pinfish</text>
<text x="1240.0" y="1934.3">Spot</text>
<text x="1161.3" y="2107.1">Sea bream</text>
<text x="1458.5" y="2255.9">Striped</text>
<text x="1580.3" y="2294.6">White</text>
<circle cx="377.35" cy="1296.65" r="10.45"/>
<text x="396.6" y="1309.5">Prey</text>
<rect x="676.10" y="1284.95" width="23.30" height="23.30" fill="#fff" stroke="#000" stroke-width="3.5" stroke-linejoin="round"/>
<text x="707.7" y="1309.5">Non-adult pre</text>
<rect x="987.00" y="1284.80" width="23.60" height="23.60" fill="#a6a6a6" stroke="#a6a6a6" stroke-width="3.0" stroke-linejoin="round"/>
<text x="1017.8" y="1309.5">Non-adult mid</text>
<rect x="1297.70" y="1285.00" width="23.20" height="23.20" fill="#000" stroke="#000" stroke-width="3.0" stroke-linejoin="round"/>
<text x="1328.9" y="1309.5">Non-adult post</text>
<polygon points="377.35,1346.45 388.75,1369.55 365.95,1369.55" fill="#fff" stroke="#000" stroke-width="3.7" stroke-linejoin="round"/>
<text x="396.7" y="1371.5">Adult pre</text>
<polygon points="687.90,1346.60 699.30,1369.60 676.50,1369.60" fill="#a6a6a6" stroke="#a6a6a6" stroke-width="3.0" stroke-linejoin="round"/>
<text x="707.7" y="1371.5" textLength="172.6" lengthAdjust="spacing">Adult mid</text>
<polygon points="998.80,1346.60 1010.50,1369.60 987.10,1369.60" fill="#000" stroke="#000" stroke-width="3.0" stroke-linejoin="round"/>
<text x="1018.0" y="1371.5">Adult post</text>
</svg>
</body></html>
